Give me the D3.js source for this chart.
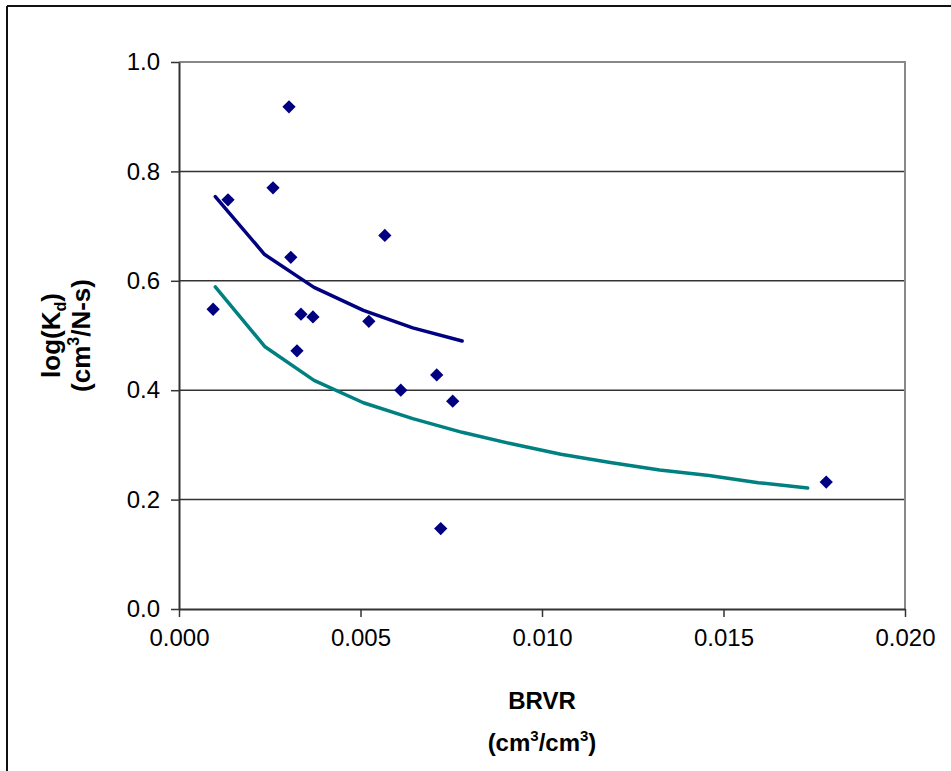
<!DOCTYPE html>
<html>
<head>
<meta charset="utf-8">
<script src="https://cdn.jsdelivr.net/npm/d3@7/dist/d3.min.js"></script>
<style>
  html, body { margin: 0; padding: 0; background: #fff; }
  svg { display: block; font-family: "Liberation Sans", Arial, sans-serif; }
</style>
</head>
<body>
<script>
// Measured BRVR vs log(Kd)
const brvr = [0.00094, 0.00135, 0.00303, 0.00259, 0.00308, 0.00336, 0.00369, 0.00325,
              0.00567, 0.00523, 0.00611, 0.00710, 0.00754, 0.00721, 0.01783];
const logKd = [0.548, 0.748, 0.918, 0.770, 0.643, 0.539, 0.534, 0.472,
               0.683, 0.526, 0.400, 0.428, 0.380, 0.147, 0.232];

// Upper fitted curve (navy)
const fitUpperX = [0.00100, 0.00236, 0.00372, 0.00508, 0.00644, 0.00780];
const fitUpperY = [0.754, 0.648, 0.588, 0.546, 0.514, 0.490];

// Lower fitted curve (teal)
const fitLowerX = [0.00100, 0.00236, 0.00372, 0.00508, 0.00644, 0.00780, 0.00916,
                   0.01052, 0.01188, 0.01324, 0.01460, 0.01596, 0.01732];
const fitLowerY = [0.589, 0.480, 0.418, 0.377, 0.348, 0.323, 0.302,
                   0.283, 0.268, 0.254, 0.244, 0.231, 0.221];

const xTicks = [0, 0.005, 0.010, 0.015, 0.020];
const yTicks = [0, 0.2, 0.4, 0.6, 0.8, 1.0];

const W = 951, H = 771;
const svg = d3.select("body").append("svg").attr("width", W).attr("height", H);
svg.append("rect").attr("width", W).attr("height", H).attr("fill", "#fff");

// outer chart frame (top and left edges)
svg.append("line").attr("x1", 7).attr("x2", W).attr("y1", 6).attr("y2", 6)
  .attr("stroke", "#111").attr("stroke-width", 2);
svg.append("line").attr("x1", 7).attr("x2", 7).attr("y1", 6).attr("y2", H)
  .attr("stroke", "#111").attr("stroke-width", 2);

const plot = { left: 179, right: 905, top: 62, bottom: 609 };
const x = d3.scaleLinear().domain([0, 0.020]).range([plot.left, plot.right]);
const y = d3.scaleLinear().domain([0, 1.0]).range([plot.bottom, plot.top]);

// gridlines
svg.append("g").selectAll("line").data(yTicks.filter(t => t > 0 && t < 1))
  .join("line")
  .attr("x1", plot.left).attr("x2", plot.right)
  .attr("y1", d => y(d)).attr("y2", d => y(d))
  .attr("stroke", "#333").attr("stroke-width", 1.5);

// plot area top and right border
svg.append("path")
  .attr("d", `M${plot.left},${y(1)}H${plot.right}V${plot.bottom}`)
  .attr("fill", "none").attr("stroke", "#888").attr("stroke-width", 2);

// axes
const xAxis = d3.axisBottom(x).tickValues(xTicks).tickFormat(d3.format(".3f"))
  .tickSize(8).tickSizeOuter(0).tickPadding(12);
const gx = svg.append("g").attr("transform", `translate(0,${plot.bottom})`).call(xAxis);
gx.select(".domain").attr("stroke", "#333").attr("stroke-width", 2);
gx.selectAll(".tick line").attr("stroke", "#333").attr("stroke-width", 1.5);
gx.selectAll(".tick text").attr("font-size", 24).attr("fill", "#000")
  .attr("font-family", "Liberation Sans, Arial, sans-serif");

const yAxis = d3.axisLeft(y).tickValues(yTicks).tickFormat(d3.format(".1f"))
  .tickSize(8).tickSizeOuter(0).tickPadding(11);
const gy = svg.append("g").attr("transform", `translate(${plot.left},0)`).call(yAxis);
gy.select(".domain").attr("stroke", "#333").attr("stroke-width", 2);
gy.selectAll(".tick line").attr("stroke", "#333").attr("stroke-width", 1.5);
gy.selectAll(".tick text").attr("font-size", 24).attr("fill", "#000")
  .attr("font-family", "Liberation Sans, Arial, sans-serif");

// fitted curves
const line = d3.line().x(d => x(d[0])).y(d => y(d[1]));
svg.append("path").datum(d3.zip(fitUpperX, fitUpperY))
  .attr("d", line).attr("fill", "none").attr("stroke", "#000080")
  .attr("stroke-width", 3.5).attr("stroke-linejoin", "round").attr("stroke-linecap", "round");
svg.append("path").datum(d3.zip(fitLowerX, fitLowerY))
  .attr("d", line).attr("fill", "none").attr("stroke", "#008080")
  .attr("stroke-width", 3.5).attr("stroke-linejoin", "round").attr("stroke-linecap", "round");

// data points as diamonds (squares turned 45 degrees)
svg.append("g").selectAll("path").data(d3.zip(brvr, logKd)).join("path")
  .attr("d", d3.symbol().type(d3.symbolSquare).size(88))
  .attr("transform", d => `translate(${x(d[0])},${y(d[1])}) rotate(45)`)
  .attr("fill", "#000080");

// x axis title
const xt = svg.append("g").attr("font-weight", "bold").attr("font-size", 24)
  .attr("text-anchor", "middle").attr("fill", "#000");
xt.append("text").attr("x", (plot.left + plot.right) / 2).attr("y", 709).text("BRVR");
const xt2 = xt.append("text").attr("x", (plot.left + plot.right) / 2).attr("y", 751);
xt2.append("tspan").text("(cm");
xt2.append("tspan").attr("font-size", 15).attr("dy", -10).text("3");
xt2.append("tspan").attr("dy", 10).text("/cm");
xt2.append("tspan").attr("font-size", 15).attr("dy", -10).text("3");
xt2.append("tspan").attr("dy", 10).text(")");

// y axis title
const yt = svg.append("g").attr("transform", `translate(0,${(plot.top + plot.bottom) / 2}) rotate(-90)`)
  .attr("font-weight", "bold").attr("font-size", 26).attr("text-anchor", "middle").attr("fill", "#000");
const yt1 = yt.append("text").attr("x", 0).attr("y", 60);
yt1.append("tspan").text("log(K");
yt1.append("tspan").attr("font-size", 16).attr("dy", 6).text("d");
yt1.append("tspan").attr("dy", -6).text(")");
const yt2 = yt.append("text").attr("x", 0).attr("y", 90);
yt2.append("tspan").text("(cm");
yt2.append("tspan").attr("font-size", 16).attr("dy", -11).text("3");
yt2.append("tspan").attr("dy", 11).text("/N-s)");
</script>
</body>
</html>
